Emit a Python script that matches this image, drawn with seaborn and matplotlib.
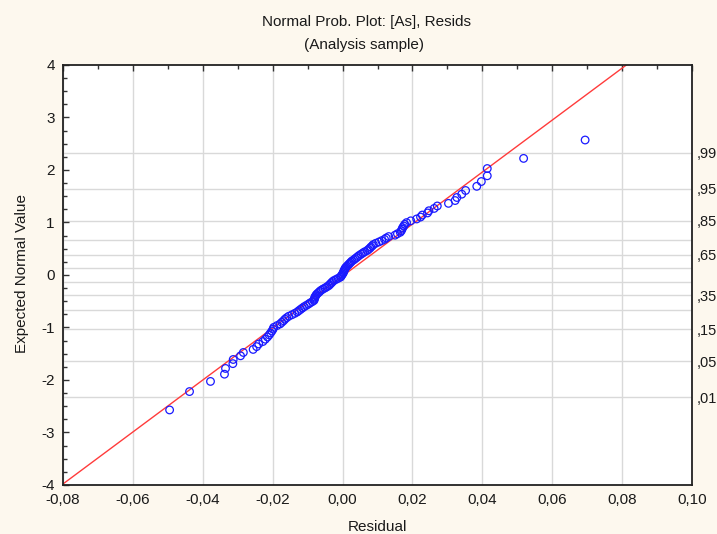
import matplotlib
matplotlib.use("Agg")
import matplotlib.pyplot as plt
import seaborn as sns
import numpy as np
import pandas as pd
from statistics import NormalDist
from matplotlib.ticker import MultipleLocator, FixedLocator

# sorted residuals
residuals = [
    -0.0495, -0.0438, -0.0378, -0.0338, -0.0335, -0.0314, -0.0313, -0.0292, -0.0284, -0.0256,
    -0.0246, -0.0240, -0.0228, -0.0221, -0.0215, -0.0210, -0.0206, -0.0202, -0.0199, -0.0197,
    -0.0188, -0.0179, -0.0174, -0.0169, -0.0165, -0.0160, -0.0154, -0.0145, -0.0137, -0.0130,
    -0.0125, -0.0120, -0.0115, -0.0110, -0.0104, -0.0098, -0.0093, -0.0087, -0.0082, -0.0081,
    -0.0080, -0.0079, -0.0077, -0.0075, -0.0072, -0.0068, -0.0065, -0.0061, -0.0056, -0.0050,
    -0.0045, -0.0040, -0.0037, -0.0034, -0.0031, -0.0028, -0.0024, -0.0018, -0.0012, -0.0006,
    -0.0004, -0.0002, 0.0000, 0.0002, 0.0003, 0.0004, 0.0006, 0.0007, 0.0009, 0.0012,
    0.0015, 0.0018, 0.0021, 0.0024, 0.0027, 0.0032, 0.0036, 0.0040, 0.0044, 0.0048,
    0.0053, 0.0058, 0.0063, 0.0070, 0.0074, 0.0078, 0.0081, 0.0085, 0.0088, 0.0095,
    0.0104, 0.0112, 0.0120, 0.0125, 0.0132, 0.0150, 0.0157, 0.0165, 0.0168, 0.0170,
    0.0172, 0.0175, 0.0178, 0.0183, 0.0195, 0.0212, 0.0223, 0.0228, 0.0243, 0.0247,
    0.0262, 0.0271, 0.0303, 0.0322, 0.0327, 0.0341, 0.0352, 0.0384, 0.0397, 0.0414,
    0.0414, 0.0518, 0.0694,
]

# fitted normal line (mean, sd)
fit_mean = 0.0004
fit_sd = 0.0202

x_ticks = [-0.08, -0.06, -0.04, -0.02, 0.00, 0.02, 0.04, 0.06, 0.08, 0.10]
y_ticks = [-4, -3, -2, -1, 0, 1, 2, 3, 4]
prob_labels = [0.01, 0.05, 0.15, 0.35, 0.65, 0.85, 0.95, 0.99]
prob_grid = [0.01, 0.05, 0.15, 0.25, 0.35, 0.45, 0.55, 0.65, 0.75, 0.85, 0.95, 0.99]

# expected normal values (Blom ranks)
nd = NormalDist()
n = len(residuals)
df = pd.DataFrame({
    "Residual": residuals,
    "Expected": [nd.inv_cdf((i + 1 - 0.375) / (n + 0.25)) for i in range(n)],
})

sns.set_theme(style="white")
plt.rcParams['font.family'] = ['Liberation Sans', 'DejaVu Sans']
plt.rcParams['axes.unicode_minus'] = False

bg = '#FDF8EE'
txt = '#1a1a1a'
fig = plt.figure(figsize=(7.17, 5.34), dpi=100, facecolor=bg)
ax = fig.add_axes([0.0879, 0.0918, 0.8773, 0.7865])
ax.set_facecolor('white')

ax.set_xlim(-0.08, 0.10)
ax.set_ylim(-4, 4)

# grid: vertical at x ticks, horizontal at probability levels
for xv in x_ticks:
    ax.axvline(xv, color='#d9d9d9', lw=1, zorder=0)
for p in prob_grid:
    ax.axhline(nd.inv_cdf(p), color='#d9d9d9', lw=1, zorder=0)

xs = np.array([-0.09, 0.10])
ax.plot(xs, (xs - fit_mean) / fit_sd, color='#ff3b3b', lw=1, zorder=2)

sns.scatterplot(data=df, x='Residual', y='Expected', ax=ax, marker='o', s=30,
                facecolors='none', edgecolor='#1a1aff', linewidth=0.9, zorder=3)

ax.set_xticks(x_ticks)
ax.set_xticklabels([f"{v:.2f}".replace('.', ',') for v in x_ticks], fontsize=11, color=txt)
ax.set_yticks(y_ticks)
ax.set_yticklabels([str(v) for v in y_ticks], fontsize=11, color=txt)
ax.xaxis.set_minor_locator(MultipleLocator(0.01))
ax.yaxis.set_minor_locator(MultipleLocator(0.25))
ax.tick_params(which='both', direction='in', top=True, right=True, color='#333333')
ax.tick_params(which='major', length=4, width=1, pad=6)
ax.tick_params(which='minor', length=3, width=1)
ax.set_xlabel('')
ax.set_ylabel('')
for s in ax.spines.values():
    s.set_color('#222222')
    s.set_linewidth(1.3)

# probability labels on the right
ax2 = ax.twinx()
ax2.set_ylim(-4, 4)
ax2.yaxis.set_major_locator(FixedLocator([nd.inv_cdf(p) for p in prob_labels]))
ax2.set_yticklabels([f"{p:.2f}"[1:].replace('.', ',') for p in prob_labels], fontsize=10.5, color=txt)
ax2.tick_params(axis='y', length=0, pad=3)
for s in ax2.spines.values():
    s.set_visible(False)

fig.text(0.511, 0.959, 'Normal Prob. Plot: [As], Resids', ha='center', va='center', fontsize=11, color=txt)
fig.text(0.508, 0.916, '(Analysis sample)', ha='center', va='center', fontsize=11, color=txt)
fig.text(0.526, 0.014, 'Residual', ha='center', va='center', fontsize=11, color=txt)
fig.text(0.031, 0.487, 'Expected Normal Value', ha='center', va='center', rotation=90, fontsize=11, color=txt)

fig.savefig('out.png', dpi=100, facecolor=bg)
